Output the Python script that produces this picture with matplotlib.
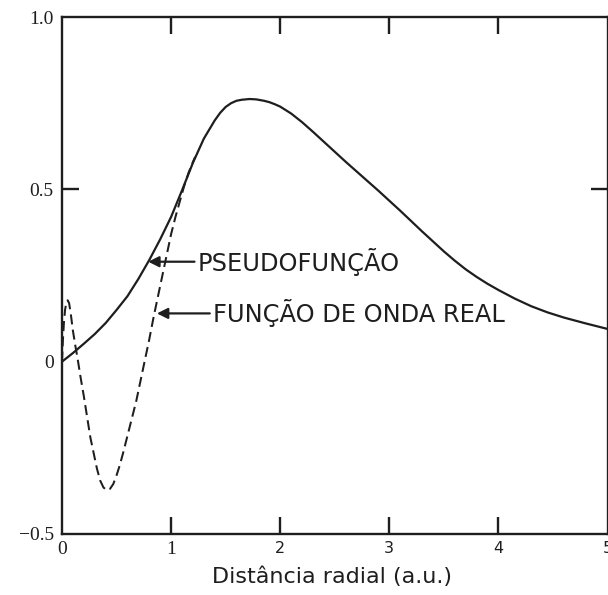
import matplotlib
matplotlib.use("Agg")
import matplotlib.pyplot as plt

# Pseudo wavefunction (solid)
pseudo_r = [0.0, 0.1, 0.2, 0.3, 0.4, 0.5, 0.6, 0.7, 0.8, 0.9, 1.0, 1.1, 1.2, 1.3,
            1.4, 1.45, 1.5, 1.55, 1.6, 1.65, 1.72, 1.78, 1.85, 1.9, 1.95, 2.0,
            2.1, 2.2, 2.3, 2.4, 2.5, 2.6, 2.7, 2.8, 2.9, 3.0, 3.1, 3.2, 3.3,
            3.4, 3.5, 3.6, 3.7, 3.8, 3.9, 4.0, 4.15, 4.3, 4.45, 4.6, 4.8, 5.0]
pseudo_psi = [0.0, 0.025, 0.052, 0.08, 0.112, 0.15, 0.19, 0.24, 0.295, 0.355,
              0.42, 0.497, 0.577, 0.647, 0.70, 0.722, 0.739, 0.75, 0.757, 0.76,
              0.762, 0.761, 0.757, 0.753, 0.747, 0.74, 0.72, 0.695, 0.667, 0.638,
              0.609, 0.58, 0.552, 0.524, 0.496, 0.467, 0.438, 0.408, 0.378, 0.349,
              0.32, 0.293, 0.268, 0.246, 0.226, 0.208, 0.183, 0.161, 0.143,
              0.128, 0.111, 0.095]

# All-electron wavefunction inside the core (dashed)
real_r = [0.0, 0.008, 0.017, 0.028, 0.04, 0.052, 0.065, 0.08, 0.1, 0.12, 0.14,
          0.17, 0.2, 0.23, 0.26, 0.29, 0.32, 0.35, 0.38, 0.41, 0.44, 0.47, 0.5,
          0.53, 0.56, 0.6, 0.64, 0.68, 0.72, 0.76, 0.8, 0.84, 0.88, 0.92, 0.96,
          1.0, 1.04, 1.08, 1.12, 1.16, 1.19, 1.22]
real_psi = [0.0, 0.06, 0.11, 0.15, 0.172, 0.178, 0.17, 0.14, 0.09, 0.05, 0.015,
            -0.045, -0.1, -0.16, -0.22, -0.265, -0.31, -0.345, -0.365, -0.373,
            -0.369, -0.355, -0.33, -0.30, -0.265, -0.215, -0.165, -0.115,
            -0.055, 0.005, 0.065, 0.13, 0.19, 0.25, 0.31, 0.37, 0.42, 0.465,
            0.51, 0.548, 0.572, 0.594]

ytick_vals = [-0.5, 0, 0.5, 1.0]
ytick_labels = ["\u22120.5", "0", "0.5", "1.0"]
xtick_vals = [0, 1, 2, 3, 4, 5]
xtick_labels = ["0", "1", "2", "3", "4", "5"]

ink = "#1e1e1e"

fig = plt.figure(figsize=(6.08, 5.95), dpi=100)
ax = fig.add_axes([62 / 608, 61 / 595, 545.5 / 608, 517 / 595])

ax.plot(pseudo_r, pseudo_psi, color=ink, lw=1.6, solid_joinstyle="round",
        solid_capstyle="round")
ax.plot(real_r, real_psi, color=ink, lw=1.45, linestyle=(0, (5.0, 2.6)))

ax.set_xlim(0, 5)
ax.set_ylim(-0.5, 1.0)

for s in ax.spines.values():
    s.set_linewidth(1.7)
    s.set_color(ink)

ax.set_yticks(ytick_vals)
ax.set_yticklabels(ytick_labels)
ax.set_xticks(xtick_vals)
ax.set_xticklabels(xtick_labels)
ax.tick_params(axis="both", direction="in", length=12, width=1.7, color=ink,
               top=True, right=True, labelcolor=ink)
ax.tick_params(axis="y", pad=6)
ax.tick_params(axis="x", pad=5)

serif = ["Liberation Serif", "DejaVu Serif"]
for lab in ax.get_yticklabels():
    lab.set_family(serif)
    lab.set_fontsize(14)
for i, lab in enumerate(ax.get_xticklabels()):
    if i < 2:
        lab.set_family(serif)
        lab.set_fontsize(14)
    else:
        lab.set_family("DejaVu Sans")
        lab.set_fontsize(11.5)

# Only the 0.5 mark is drawn on the vertical axes
yt = ax.yaxis.get_major_ticks()
for i, t in enumerate(yt):
    if ytick_vals[i] != 0.5:
        t.tick1line.set_visible(False)
        t.tick2line.set_visible(False)
xt = ax.xaxis.get_major_ticks()
for i, t in enumerate(xt):
    if xtick_vals[i] in (0, 5):
        t.tick1line.set_visible(False)
        t.tick2line.set_visible(False)

ax.set_xlabel("Distância radial (a.u.)", fontsize=16, family="DejaVu Sans",
              color=ink, labelpad=7)
ax.xaxis.set_label_coords(270 / 545.5, -0.063)

arrow = dict(arrowstyle="-|>", color=ink, lw=1.6, mutation_scale=16,
             shrinkA=0, shrinkB=0)
ax.annotate("PSEUDOFUNÇÃO", xy=(0.79, 0.29), xytext=(1.24, 0.29),
            fontsize=17.4, family="DejaVu Sans", color=ink, va="center",
            arrowprops=arrow)
ax.annotate("FUNÇÃO DE ONDA REAL", xy=(0.87, 0.14), xytext=(1.38, 0.14),
            fontsize=17.4, family="DejaVu Sans", color=ink, va="center",
            arrowprops=arrow)

fig.savefig("out.png", dpi=100, facecolor="white")
